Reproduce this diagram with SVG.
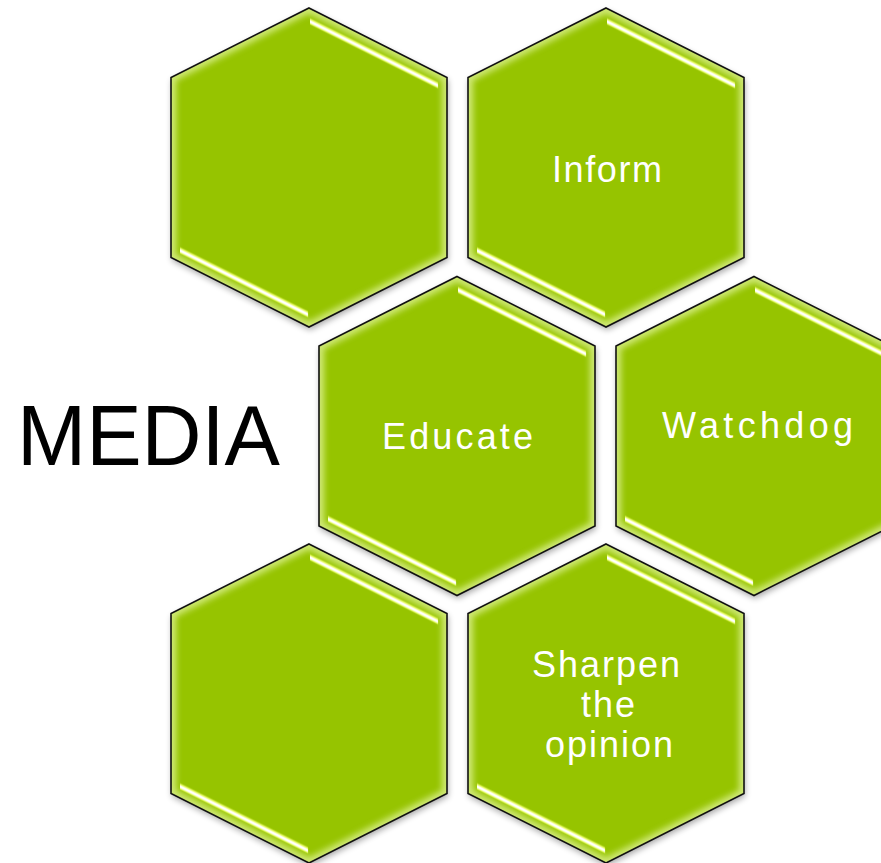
<svg xmlns="http://www.w3.org/2000/svg" xmlns:xlink="http://www.w3.org/1999/xlink" width="881" height="863" viewBox="0 0 881 863">
  <style>
    .body { fill: #96c400; }
    .glow { fill: none; stroke: #e4f6a0; stroke-width: 10; opacity: 0.75; }
    .edge { fill: none; stroke: #111; stroke-width: 1.6; stroke-linejoin: miter; }
    .label { font-family: "Liberation Sans", Arial, sans-serif; font-size: 36px; fill: #ffffff; text-anchor: middle; }
    .title { font-family: "Liberation Sans", Arial, sans-serif; font-size: 86px; fill: #000000; }
  </style>
  <defs>
    <!-- pointy-top hexagon centred on the origin -->
    <polygon id="hexPath" points="0,-159.5 138,-90 138,90 0,159.5 -138,90 -138,-90"/>
    <clipPath id="hexClip">
      <use href="#hexPath"/>
    </clipPath>
    <filter id="shadow" x="-20%" y="-20%" width="140%" height="140%">
      <feGaussianBlur in="SourceAlpha" stdDeviation="3"/>
      <feOffset dx="1" dy="3" result="off"/>
      <feComponentTransfer>
        <feFuncA type="linear" slope="0.35"/>
      </feComponentTransfer>
      <feMerge>
        <feMergeNode/>
        <feMergeNode in="SourceGraphic"/>
      </feMerge>
    </filter>
    <filter id="soft" x="-20%" y="-20%" width="140%" height="140%">
      <feGaussianBlur stdDeviation="3"/>
    </filter>
    <filter id="hlBlur" x="-10%" y="-50%" width="120%" height="200%">
      <feGaussianBlur stdDeviation="0.4"/>
    </filter>
    <linearGradient id="hlGrad" x1="0" y1="0" x2="0" y2="1">
      <stop offset="0" stop-color="#d4f040" stop-opacity="0.7"/>
      <stop offset="0.25" stop-color="#f2ff80"/>
      <stop offset="0.4" stop-color="#ffffff"/>
      <stop offset="0.62" stop-color="#ffffff"/>
      <stop offset="0.8" stop-color="#eaff60"/>
      <stop offset="1" stop-color="#b0d818" stop-opacity="0.6"/>
    </linearGradient>
    <!-- glossy strip laid along the x axis; skewed onto the slanted edges -->
    <g id="hl">
      <rect x="0" y="-3.5" width="128" height="7" fill="url(#hlGrad)" filter="url(#hlBlur)"/>
    </g>
  </defs>

  <rect width="881" height="863" fill="#ffffff"/>

  <g id="connectors"/>

  <g id="hex-top-left" transform="translate(309,167.5)">
    <use href="#hexPath" class="body" filter="url(#shadow)"/>
    <g clip-path="url(#hexClip)"><use href="#hexPath" class="glow" filter="url(#soft)"/></g>
    <use href="#hl" transform="translate(1,-146) skewY(26.565)"/>
    <use href="#hl" transform="translate(-129,83) skewY(26.565)"/>
    <use href="#hexPath" class="edge"/>
  </g>

  <g id="hex-inform" transform="translate(606,167.5)">
    <use href="#hexPath" class="body" filter="url(#shadow)"/>
    <g clip-path="url(#hexClip)"><use href="#hexPath" class="glow" filter="url(#soft)"/></g>
    <use href="#hl" transform="translate(1,-146) skewY(26.565)"/>
    <use href="#hl" transform="translate(-129,83) skewY(26.565)"/>
    <use href="#hexPath" class="edge"/>
    <text class="label" x="1" y="14.5" textLength="110" lengthAdjust="spacing">Inform</text>
  </g>

  <g id="hex-educate" transform="translate(457,436)">
    <use href="#hexPath" class="body" filter="url(#shadow)"/>
    <g clip-path="url(#hexClip)"><use href="#hexPath" class="glow" filter="url(#soft)"/></g>
    <use href="#hl" transform="translate(1,-146) skewY(26.565)"/>
    <use href="#hl" transform="translate(-129,83) skewY(26.565)"/>
    <use href="#hexPath" class="edge"/>
    <text class="label" x="0.5" y="13" textLength="151" lengthAdjust="spacing">Educate</text>
  </g>

  <g id="hex-watchdog" transform="translate(754,436)">
    <use href="#hexPath" class="body" filter="url(#shadow)"/>
    <g clip-path="url(#hexClip)"><use href="#hexPath" class="glow" filter="url(#soft)"/></g>
    <use href="#hl" transform="translate(1,-146) skewY(26.565)"/>
    <use href="#hl" transform="translate(-129,83) skewY(26.565)"/>
    <use href="#hexPath" class="edge"/>
    <text class="label" x="3.5" y="2" textLength="191" lengthAdjust="spacing">Watchdog</text>
  </g>

  <g id="hex-bottom-left" transform="translate(309,703.5)">
    <use href="#hexPath" class="body" filter="url(#shadow)"/>
    <g clip-path="url(#hexClip)"><use href="#hexPath" class="glow" filter="url(#soft)"/></g>
    <use href="#hl" transform="translate(1,-146) skewY(26.565)"/>
    <use href="#hl" transform="translate(-129,83) skewY(26.565)"/>
    <use href="#hexPath" class="edge"/>
  </g>

  <g id="hex-sharpen" transform="translate(606,703.5)">
    <use href="#hexPath" class="body" filter="url(#shadow)"/>
    <g clip-path="url(#hexClip)"><use href="#hexPath" class="glow" filter="url(#soft)"/></g>
    <use href="#hl" transform="translate(1,-146) skewY(26.565)"/>
    <use href="#hl" transform="translate(-129,83) skewY(26.565)"/>
    <use href="#hexPath" class="edge"/>
    <text class="label" x="0" y="-26.5" textLength="148" lengthAdjust="spacing">Sharpen</text>
    <text class="label" x="2" y="13.5" textLength="54" lengthAdjust="spacing">the</text>
    <text class="label" x="3" y="53.5" textLength="128" lengthAdjust="spacing">opinion</text>
  </g>

  <g id="title">
    <text class="title" x="17" y="465" textLength="263" lengthAdjust="spacingAndGlyphs">MEDIA</text>
  </g>
</svg>
